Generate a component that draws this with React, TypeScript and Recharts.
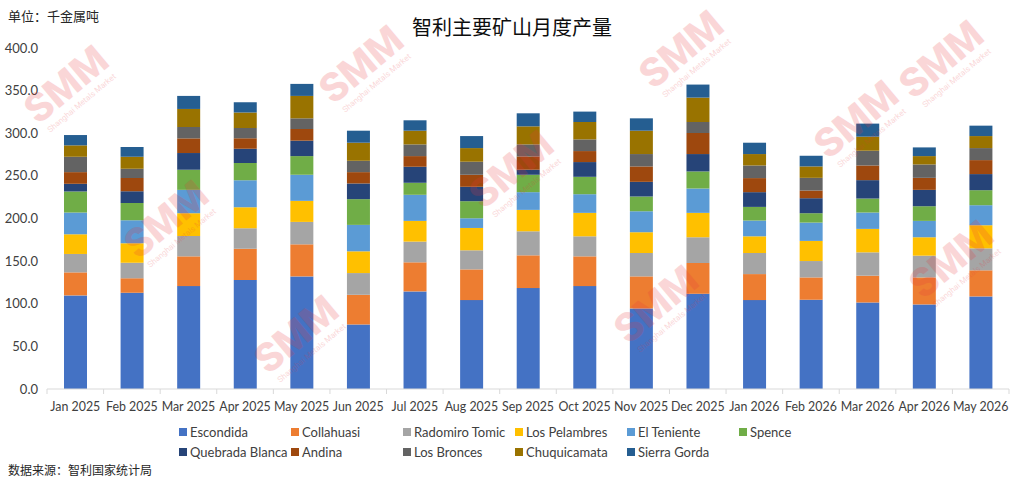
import { BarChart, Bar, XAxis, YAxis } from 'recharts';

const months = [
    'Jan 2025', 'Feb 2025', 'Mar 2025', 'Apr 2025', 'May 2025', 'Jun 2025', 'Jul 2025', 'Aug 2025', 'Sep 2025',
    'Oct 2025', 'Nov 2025', 'Dec 2025', 'Jan 2026', 'Feb 2026', 'Mar 2026', 'Apr 2026', 'May 2026'
];

const escondida = [109.8, 112.9, 120.7, 127.8, 132.1, 75.7, 114.5, 104.3, 118.4, 120.7, 94.5, 111.7, 104.3, 104.7, 101.5, 99.2, 108.6];
const collahuasi = [27.0, 16.9, 34.9, 36.8, 37.6, 34.8, 34.1, 36.0, 38.4, 34.9, 37.6, 36.1, 30.5, 26.2, 31.4, 31.7, 30.6];
const radomiroTomic = [21.6, 18.4, 23.9, 24.0, 26.3, 25.5, 24.3, 22.4, 28.2, 23.5, 27.4, 30.2, 24.7, 19.2, 27.4, 25.5, 25.8];
const losPelambres = [23.1, 22.7, 26.7, 24.7, 24.7, 25.5, 24.3, 26.2, 25.1, 27.5, 24.4, 28.6, 19.6, 23.6, 27.5, 21.6, 27.1];
const elTeniente = [25.5, 27.1, 27.4, 31.7, 30.6, 31.0, 30.6, 11.4, 20.8, 21.9, 24.6, 28.6, 18.5, 21.5, 19.2, 19.2, 23.5];
const spence = [24.7, 20.3, 23.6, 20.0, 21.9, 30.2, 14.1, 20.0, 20.4, 20.4, 17.3, 20.0, 16.0, 11.0, 16.4, 17.2, 17.6];
const quebradaBlanca = [9.0, 13.8, 19.6, 16.9, 18.1, 18.4, 18.8, 16.9, 5.9, 17.3, 17.2, 20.4, 17.3, 17.6, 21.6, 19.2, 18.9];
const andina = [13.7, 15.3, 17.2, 12.1, 13.7, 13.3, 12.5, 14.1, 15.6, 12.9, 18.1, 24.7, 16.5, 9.0, 17.2, 14.1, 16.4];
const losBronces = [18.0, 10.9, 13.3, 12.2, 12.5, 13.3, 13.7, 15.3, 14.1, 13.7, 14.5, 12.9, 14.8, 14.9, 17.3, 15.7, 14.1];
const chuquicamata = [13.4, 14.1, 21.2, 18.0, 26.3, 21.2, 16.1, 16.0, 21.2, 20.4, 27.4, 28.6, 13.4, 13.4, 16.5, 9.8, 14.1];
const sierraGorda = [12.1, 11.4, 15.3, 12.1, 14.1, 14.1, 12.2, 14.1, 15.3, 12.2, 14.5, 15.3, 13.3, 12.5, 15.3, 10.2, 12.2];

const yTicks = [0, 50, 100, 150, 200, 250, 300, 350, 400];

const series = [
    { key: 'Escondida', values: escondida, color: '#4472C4' },
    { key: 'Collahuasi', values: collahuasi, color: '#ED7D31' },
    { key: 'Radomiro Tomic', values: radomiroTomic, color: '#A5A5A5' },
    { key: 'Los Pelambres', values: losPelambres, color: '#FFC000' },
    { key: 'El Teniente', values: elTeniente, color: '#5B9BD5' },
    { key: 'Spence', values: spence, color: '#70AD47' },
    { key: 'Quebrada Blanca', values: quebradaBlanca, color: '#264478' },
    { key: 'Andina', values: andina, color: '#9E480E' },
    { key: 'Los Bronces', values: losBronces, color: '#636363' },
    { key: 'Chuquicamata', values: chuquicamata, color: '#997300' },
    { key: 'Sierra Gorda', values: sierraGorda, color: '#255E91' },
];

const chartData = months.map((m, i) => {
    const row: any = { month: m };
    series.forEach(s => { row[s.key] = s.values[i]; });
    return row;
});

const FONT = 'Lato, "Noto Sans CJK SC", sans-serif';
const W = 1024;
const H = 485;
const PLOT_LEFT = 47;
const PLOT_RIGHT = 15;
const band = (W - PLOT_LEFT - PLOT_RIGHT) / months.length;

// ticks sit between categories, like Excel
function MonthTick(props: any) {
    const { x, y, payload, index } = props;
    const left = x - band / 2;
    return (
        <g>
            <line x1={left} y1={y - 8} x2={left} y2={y - 3} stroke="#d9d9d9" />
            {index === months.length - 1 && (
                <line x1={left + band} y1={y - 8} x2={left + band} y2={y - 3} stroke="#d9d9d9" />
            )}
            <text x={x} y={y + 14} textAnchor="middle" fill="#404040" fontSize={12.4} fontFamily={FONT}>
                {payload.value}
            </text>
        </g>
    );
}

// watermark spots, kept inside the frame
const watermarks = [
    { x: 75, y: 95 }, { x: 370, y: 75 }, { x: 690, y: 60 }, { x: 950, y: 70 },
    { x: 175, y: 230 }, { x: 520, y: 180 }, { x: 865, y: 130 }, { x: 960, y: 270 },
    { x: 305, y: 345 }, { x: 665, y: 315 },
];

export default function App() {
    return (
        <div style={{ position: 'absolute', left: 0, top: 0, width: W, height: H, background: '#fff', fontFamily: FONT, overflow: 'hidden' }}>
            <BarChart
                width={W}
                height={H}
                data={chartData}
                margin={{ top: 48, right: PLOT_RIGHT, bottom: 66, left: 0 }}
                barSize={23}
            >
                <XAxis
                    dataKey="month"
                    interval={0}
                    axisLine={{ stroke: '#d9d9d9' }}
                    tickLine={false}
                    tick={<MonthTick />}
                    height={30}
                />
                <YAxis
                    domain={[0, 400]}
                    ticks={yTicks}
                    width={PLOT_LEFT}
                    axisLine={false}
                    tickLine={false}
                    tickMargin={3}
                    tickFormatter={(v: number) => v.toFixed(1)}
                    tick={{ fill: '#404040', fontSize: 13, fontFamily: FONT }}
                />
                {series.map(s => (
                    <Bar key={s.key} dataKey={s.key} stackId="a" fill={s.color} isAnimationActive={false} />
                ))}
            </BarChart>

            <svg width={W} height={H} style={{ position: 'absolute', left: 0, top: 0, pointerEvents: 'none' }}>
                {watermarks.map((w, i) => (
                    <g key={i} transform={`translate(${w.x},${w.y}) rotate(-40)`} opacity={0.2}>
                        <text x={0} y={0} textAnchor="middle" fontSize={40} fontWeight={900} fill="#e8383d" fontFamily="Roboto, sans-serif">SMM</text>
                        <text x={0} y={13} textAnchor="middle" fontSize={8} fill="#e8383d" fontFamily="Roboto, sans-serif">Shanghai Metals Market</text>
                    </g>
                ))}
            </svg>

            <div style={{ position: 'absolute', left: 8, top: 6, fontSize: 13, color: '#262626', fontFamily: '"Noto Sans CJK SC", sans-serif' }}>
                单位：千金属吨
            </div>
            <div style={{ position: 'absolute', left: 0, width: W, top: 12, textAlign: 'center', fontSize: 20, color: '#0d0d0d', fontFamily: '"Noto Sans CJK SC", sans-serif' }}>
                智利主要矿山月度产量
            </div>

            <div style={{ position: 'absolute', left: 179, top: 423, width: 680 }}>
                {series.map((s, i) => (
                    <div
                        key={s.key}
                        style={{
                            position: 'absolute',
                            left: (i % 6) * 112,
                            top: Math.floor(i / 6) * 20,
                            display: 'flex',
                            alignItems: 'center',
                            fontSize: 13,
                            color: '#404040',
                            whiteSpace: 'nowrap',
                            lineHeight: '18px',
                        }}
                    >
                        <span style={{ display: 'inline-block', width: 8, height: 8, background: s.color, marginRight: 3 }} />
                        {s.key}
                    </div>
                ))}
            </div>

            <div style={{ position: 'absolute', left: 8, top: 461, fontSize: 12, color: '#262626', fontFamily: '"Noto Sans CJK SC", sans-serif' }}>
                数据来源：智利国家统计局
            </div>
        </div>
    );
}
